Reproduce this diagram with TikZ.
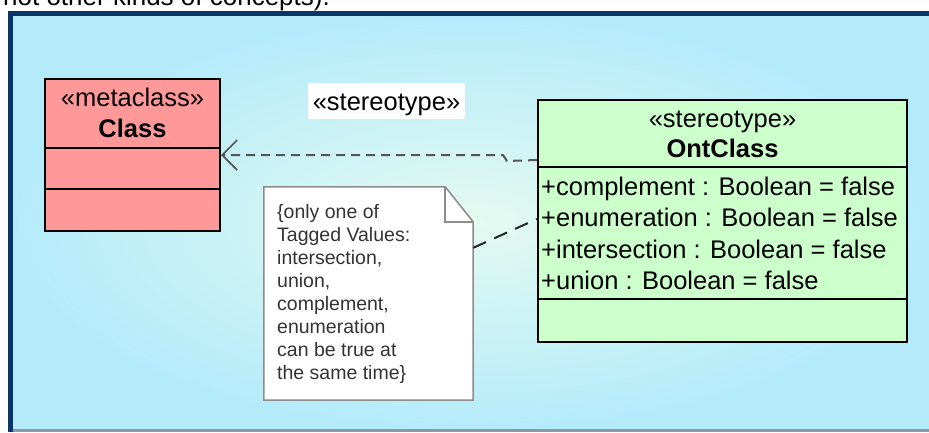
\documentclass[tikz,border=0pt]{standalone}
\usepackage{fontspec}
\setmainfont{Liberation Sans}
\usetikzlibrary{arrows.meta,calc}
\definecolor{navy}{HTML}{0B3468}
\definecolor{bgin}{HTML}{E4FAF0}
\definecolor{bgout}{HTML}{B4EBFB}
\definecolor{framegray}{HTML}{8A9AA5}
\definecolor{classred}{HTML}{FF9999}
\definecolor{ontgreen}{HTML}{CCFFCC}
\definecolor{notegray}{HTML}{8C8C8C}
\definecolor{notetext}{HTML}{333333}
\definecolor{depgray}{HTML}{555555}
\newcommand\umlfont{\fontsize{25.5}{30}\selectfont}
\newcommand\umlbfont{\fontsize{25.5}{30}\selectfont\bfseries}
\newcommand\notefont{\fontsize{19.5}{23}\selectfont}
\begin{document}
\begin{tikzpicture}[x=1pt,y=-1pt,
  umlbox/.style={draw=black, line width=2pt, inner sep=0pt},
  divider/.style={draw=black, line width=2pt},
  umltext/.style={inner sep=0pt, font=\umlfont, text=black},
  umlbtext/.style={inner sep=0pt, font=\umlbfont, text=black},
  notebox/.style={fill=white, draw=notegray, line width=1.5pt, line join=miter},
  dep/.style={draw=depgray, line width=2pt, dash pattern=on 9pt off 6pt,
    -{Straight Barb[length=15pt,width=30pt,line width=1.6pt]}},
  notelink/.style={draw=black!85, line width=2pt, dash pattern=on 14pt off 9pt}]
\useasboundingbox (0,0) rectangle (929,432);
% cropped caption at the very top
\begin{scope}
  \clip (0,0) rectangle (929,11);
  \node[anchor=base west, inner sep=0pt, font=\fontsize{26}{30}\selectfont] (caption) at (3,5) {not other kinds of concepts).};
\end{scope}
% frame and background
\fill[navy] (8,11) rectangle (929,432);
\shade[inner color=bgin, outer color=bgout] (13,16) rectangle (929,429);
\fill[framegray] (13,429) rectangle (929,432);

% metaclass Class
\node[umlbox, fill=classred, minimum width=175, minimum height=152] (cls) at (132.5,155) {};
\draw[divider] ([yshift=-70pt]cls.north west) -- ([yshift=-70pt]cls.north east);
\draw[divider] ([yshift=-111pt]cls.north west) -- ([yshift=-111pt]cls.north east);
\node[umltext, anchor=base] (clsst) at (132.5,106) {«metaclass»};
\node[umlbtext, anchor=base] (clsname) at (132.5,137) {Class};

% stereotype label
\node[fill=white, inner sep=0pt, minimum width=157, minimum height=36] (stbg) at (386.5,101) {};
\node[umltext, anchor=base] (stlab) at (386.5,110) {«stereotype»};

% OntClass
\node[umlbox, fill=ontgreen, minimum width=369, minimum height=242] (ont) at (722.5,221) {};
\draw[divider] ([yshift=-68pt]ont.north west) -- ([yshift=-68pt]ont.north east);
\draw[divider] ([yshift=-200pt]ont.north west) -- ([yshift=-200pt]ont.north east);
\node[umltext, anchor=base] (ontst) at (722.5,127) {«stereotype»};
\node[umlbtext, anchor=base] (ontname) at (722.5,157) {OntClass};
\node[umltext, anchor=base west] (attr1) at (541,195) {+complement : Boolean = false};
\node[umltext, anchor=base west] (attr2) at (541,226.5) {+enumeration : Boolean = false};
\node[umltext, anchor=base west] (attr3) at (541,258) {+intersection : Boolean = false};
\node[umltext, anchor=base west] (attr4) at (541,289.5) {+union : Boolean = false};

% note
\node[inner sep=0pt, minimum width=209, minimum height=213] (note) at (368.5,293.5) {};
\coordinate (earA) at ([xshift=-28pt]note.north east);
\coordinate (earB) at ([yshift=-35pt]note.north east);
\coordinate (earC) at ([xshift=-28pt,yshift=-35pt]note.north east);
\path[notebox] (note.south west) -- (note.north west) -- (earA) -- (earB) -- (note.south east) -- cycle;
\draw[draw=notegray, line width=1.5pt] (earA) -- (earC) -- (earB);
\node[anchor=north west, inner sep=0pt, align=left, font=\notefont, text=notetext] (notetxt) at (277,204.5)
  {\{only one of\\Tagged Values:\\intersection,\\union,\\complement,\\enumeration\\can be true at\\the same time\}};

% connectors
\coordinate (j1) at (507,161);
\coordinate (j2) at (503,155);
\draw[dep] ([yshift=-61pt]ont.north west) -- (j1) -- (j2) -- (cls.east);
\draw[notelink] ([yshift=-61pt]note.north east) -- ([yshift=-120pt]ont.north west);
\end{tikzpicture}
\end{document}
